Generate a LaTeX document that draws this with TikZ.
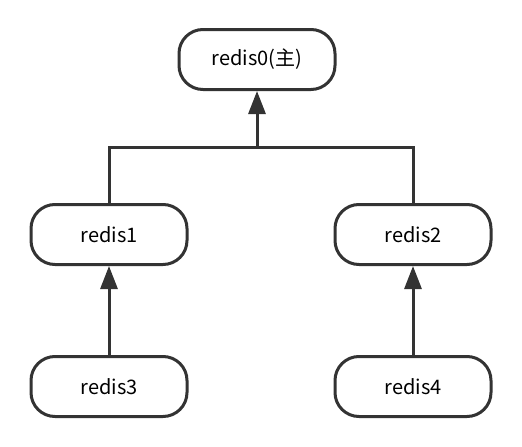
\documentclass[tikz,border=0pt]{standalone}
\usepackage{fontspec}
\setmainfont{Noto Sans CJK SC}
\usetikzlibrary{arrows.meta}
\definecolor{ln}{HTML}{333333}
\begin{document}
\begin{tikzpicture}[x=1pt,y=-1pt,
  box/.style={draw=ln,line width=3pt,rounded corners=24pt,minimum width=156pt,minimum height=60pt,inner sep=0pt,font=\fontsize{20}{24}\selectfont,text=black},
  conn/.style={draw=ln,line width=3pt},
  arr/.style={conn,-{Triangle[width=17pt,length=23pt]}}]
\useasboundingbox (0,0) rectangle (522,447);
\node[box] (r0) at (257,59.5) {redis0(主)};
\node[box] (r1) at (109,234.5) {redis1};
\node[box] (r2) at (413,234.5) {redis2};
\node[box] (r3) at (109,386.5) {redis3};
\node[box] (r4) at (413,386.5) {redis4};
\coordinate (j) at (257,147);
\draw[conn] (r1.north) |- (j) -| (r2.north);
\draw[arr] (j) -- (r0.south);
\draw[arr] (r3.north) -- (r1.south);
\draw[arr] (r4.north) -- (r2.south);
\end{tikzpicture}
\end{document}
